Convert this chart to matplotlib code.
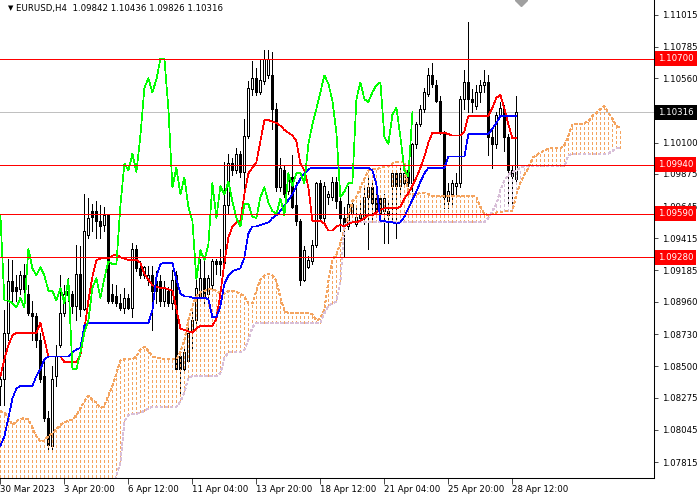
import numpy as np
import matplotlib.pyplot as plt

plt.rcParams['font.family'] = ['DejaVu Sans']

# EURUSD H4 bars, oldest -> newest (last bar = 28 Apr 16:00)
opens = [1.0836, 1.0841, 1.0874, 1.0911, 1.0907, 1.0905, 1.0915, 1.0902, 1.0888, 1.0886,
         1.0869, 1.0843, 1.0813, 1.0793, 1.0843, 1.0865, 1.0888, 1.0901, 1.0902, 1.0893,
         1.0916, 1.0891, 1.0944, 1.0961, 1.0961, 1.0954, 1.0951, 1.0958, 1.0902, 1.0900,
         1.0895, 1.0892, 1.0899, 1.0892, 1.0934, 1.0920, 1.0915, 1.0912, 1.0915, 1.0911,
         1.0911, 1.0897, 1.0904, 1.0895, 1.0915, 1.0857, 1.0848, 1.0854, 1.0876, 1.0883,
         1.0899, 1.0913, 1.0902, 1.0908, 1.0925, 1.0925, 1.0924, 1.0965, 1.0995, 1.0990,
         1.1002, 1.0989, 1.1015, 1.1048, 1.1056, 1.1046, 1.1054, 1.1058, 1.1058, 1.1034,
         1.0978, 1.0990, 1.0975, 1.0985, 1.0965, 1.0954, 1.0912, 1.0921, 1.0925, 1.0937,
         1.0981, 1.0956, 1.0971, 1.0971, 1.0982, 1.0968, 1.0956, 1.0950, 1.0959, 1.0952,
         1.0958, 1.0956, 1.0971, 1.0978, 1.0970, 1.0970, 1.0961, 1.0961, 1.0979, 1.0988,
         1.0979, 1.0981, 1.0990, 1.0981, 1.1009, 1.1023, 1.1034, 1.1045, 1.1058, 1.1051,
         1.1040, 1.1017, 1.0968, 1.0973, 1.0979, 1.0981, 1.1041, 1.1053, 1.1041, 1.1036,
         1.1046, 1.1051, 1.1053, 1.1014, 1.1009, 1.1030, 1.1034, 1.1014, 1.0990, 1.09842]
highs = [1.0845, 1.0890, 1.0927, 1.0926, 1.0915, 1.0918, 1.0923, 1.0908, 1.0897, 1.0888,
         1.0874, 1.0855, 1.0818, 1.0850, 1.0865, 1.0915, 1.0908, 1.0913, 1.0904, 1.0937,
         1.0936, 1.0973, 1.0970, 1.0966, 1.0968, 1.0965, 1.0964, 1.0959, 1.0909, 1.0908,
         1.0902, 1.0906, 1.0902, 1.0938, 1.0937, 1.0925, 1.0922, 1.0922, 1.0922, 1.0918,
         1.0915, 1.0911, 1.0907, 1.0919, 1.0918, 1.0861, 1.0863, 1.0878, 1.0890, 1.0913,
         1.0927, 1.0925, 1.0915, 1.0927, 1.0927, 1.0934, 1.0996, 1.1002, 1.0999, 1.1006,
         1.1004, 1.1027, 1.1054, 1.1068, 1.1063, 1.1069, 1.1076, 1.1076, 1.1075, 1.1038,
         1.0999, 1.0994, 1.0989, 1.1001, 1.0982, 1.0955, 1.0936, 1.0929, 1.0940, 1.0982,
         1.0983, 1.0982, 1.0975, 1.0985, 1.0985, 1.0973, 1.0964, 1.0979, 1.0968, 1.0964,
         1.0968, 1.0978, 1.0985, 1.0982, 1.0973, 1.0972, 1.0973, 1.0968, 1.0990, 1.0990,
         1.0992, 1.0990, 1.0995, 1.1010, 1.1025, 1.1037, 1.1049, 1.1063, 1.1067, 1.1055,
         1.1043, 1.1018, 1.0981, 1.0983, 1.0988, 1.1043, 1.1062, 1.1096, 1.1048, 1.1051,
         1.1055, 1.1062, 1.1058, 1.1020, 1.1032, 1.1039, 1.1037, 1.1016, 1.0993, 1.10436]
lows = [1.0822, 1.0822, 1.0869, 1.0897, 1.0897, 1.0902, 1.0893, 1.0887, 1.0869, 1.0864,
        1.0839, 1.0811, 1.0791, 1.0791, 1.0836, 1.0864, 1.0886, 1.0897, 1.0888, 1.0883,
        1.0886, 1.0890, 1.0942, 1.0947, 1.0942, 1.0942, 1.0947, 1.0895, 1.0895, 1.0893,
        1.0890, 1.0888, 1.0891, 1.0885, 1.0918, 1.0913, 1.0913, 1.0908, 1.0876, 1.0895,
        1.0893, 1.0893, 1.0893, 1.0891, 1.0846, 1.0831, 1.0845, 1.0853, 1.0862, 1.0881,
        1.0897, 1.0895, 1.0899, 1.0906, 1.0916, 1.0915, 1.0922, 1.0959, 1.0987, 1.0988,
        1.0985, 1.0976, 1.1013, 1.1044, 1.1044, 1.1045, 1.1052, 1.1056, 1.1020, 1.0975,
        1.0975, 1.0971, 1.0973, 1.0963, 1.0951, 1.0908, 1.0911, 1.0920, 1.0923, 1.0935,
        1.0954, 1.0951, 1.0966, 1.0969, 1.0963, 1.0947, 1.0928, 1.0948, 1.0957, 1.0950,
        1.0954, 1.0952, 1.0934, 1.0955, 1.0957, 1.0956, 1.0938, 1.0938, 1.0954, 1.0942,
        1.0972, 1.0980, 1.0979, 1.0975, 1.1006, 1.1022, 1.1032, 1.1043, 1.1050, 1.1039,
        1.1016, 1.0963, 1.0963, 1.0965, 1.0972, 1.0978, 1.1034, 1.1032, 1.1032, 1.1034,
        1.1039, 1.1046, 1.1001, 1.0992, 1.1006, 1.1029, 1.1004, 1.0965, 1.0965, 1.09826]
closes = [1.0841, 1.0874, 1.0911, 1.0904, 1.0904, 1.0915, 1.0905, 1.0888, 1.0886, 1.0869,
          1.0841, 1.0813, 1.0794, 1.0841, 1.0857, 1.0888, 1.0902, 1.0904, 1.0893, 1.0916,
          1.0891, 1.0947, 1.0956, 1.0957, 1.0954, 1.0950, 1.0958, 1.0897, 1.0897, 1.0895,
          1.0892, 1.0899, 1.0892, 1.0934, 1.0920, 1.0915, 1.0921, 1.0915, 1.0904, 1.0904,
          1.0897, 1.0906, 1.0895, 1.0912, 1.0848, 1.0848, 1.0860, 1.0874, 1.0883, 1.0906,
          1.0913, 1.0899, 1.0913, 1.0925, 1.0923, 1.0923, 1.0965, 1.0995, 1.0990, 1.1002,
          1.0989, 1.1015, 1.1049, 1.1056, 1.1046, 1.1055, 1.1070, 1.1070, 1.1034, 1.0978,
          1.0992, 1.0973, 1.0985, 1.0964, 1.0954, 1.0912, 1.0933, 1.0926, 1.0937, 1.0981,
          1.0956, 1.0979, 1.0973, 1.0982, 1.0968, 1.0956, 1.0950, 1.0966, 1.0966, 1.0957,
          1.0956, 1.0971, 1.0978, 1.0967, 1.0961, 1.0959, 1.0970, 1.0958, 1.0988, 1.0979,
          1.0988, 1.0988, 1.0981, 1.1009, 1.1023, 1.1034, 1.1046, 1.1058, 1.1052, 1.1040,
          1.1017, 1.0971, 1.0975, 1.0981, 1.0981, 1.1041, 1.1053, 1.1041, 1.1039, 1.1046,
          1.1051, 1.1053, 1.1014, 1.1009, 1.1030, 1.1035, 1.1014, 1.0990, 1.0986, 1.10316]

# Ichimoku lines
tenkan = [1.0843, 1.0855, 1.0865, 1.0872, 1.0874, 1.0874, 1.0874, 1.0874, 1.0874, 1.0874,
          1.0881, 1.0869, 1.0857, 1.0857, 1.0857, 1.0857, 1.0853, 1.0853, 1.0853, 1.0853,
          1.0858, 1.0876, 1.0897, 1.0914, 1.0926, 1.0927, 1.0927, 1.0927, 1.0929, 1.0930,
          1.0928, 1.0927, 1.0926, 1.0926, 1.0926, 1.0924, 1.0916, 1.0912, 1.0908, 1.0907,
          1.0906, 1.0906, 1.0905, 1.0904, 1.0891, 1.0877, 1.0876, 1.0875, 1.0874, 1.0877,
          1.0879, 1.0879, 1.0879, 1.0879, 1.0884, 1.0902, 1.0924, 1.0942, 1.0950, 1.0953,
          1.0954, 1.0973, 1.0988, 1.0992, 1.0996, 1.1011, 1.1026, 1.1026, 1.1025, 1.1024,
          1.1022, 1.1019, 1.1017, 1.1015, 1.1011, 1.0995, 1.0990, 1.0978, 1.0954, 1.0954,
          1.0954, 1.0952, 1.0947, 1.0947, 1.0950, 1.0951, 1.0950, 1.0952, 1.0953, 1.0953,
          1.0954, 1.0956, 1.0958, 1.0958, 1.0960, 1.0962, 1.0963, 1.0963, 1.0963, 1.0963,
          1.0964, 1.0970, 1.0974, 1.0979, 1.0985, 1.0992, 1.1000, 1.1010, 1.1017, 1.1017,
          1.1017, 1.1017, 1.1016, 1.1015, 1.1015, 1.1015, 1.1018, 1.1029, 1.1029, 1.1029,
          1.1029, 1.1029, 1.1029, 1.1035, 1.1042, 1.1044, 1.1034, 1.1023, 1.1013, 1.1013]
kijun = [1.0793, 1.0800, 1.0813, 1.0827, 1.0834, 1.0836, 1.0836, 1.0836, 1.0836, 1.0843,
         1.0848, 1.0855, 1.0857, 1.0857, 1.0857, 1.0857, 1.0857, 1.0857, 1.0860, 1.0862,
         1.0863, 1.0879, 1.0881, 1.0881, 1.0881, 1.0881, 1.0881, 1.0881, 1.0881, 1.0881,
         1.0881, 1.0881, 1.0881, 1.0881, 1.0881, 1.0881, 1.0881, 1.0881, 1.0890, 1.0914,
         1.0923, 1.0924, 1.0924, 1.0924, 1.0912, 1.0902, 1.0900, 1.0900, 1.0899, 1.0899,
         1.0899, 1.0899, 1.0898, 1.0885, 1.0885, 1.0893, 1.0909, 1.0915, 1.0918, 1.0919,
         1.0920, 1.0928, 1.0945, 1.0950, 1.0950, 1.0951, 1.0952, 1.0953, 1.0956, 1.0958,
         1.0961, 1.0965, 1.0969, 1.0973, 1.0979, 1.0984, 1.0988, 1.0991, 1.0992, 1.0992,
         1.0992, 1.0992, 1.0992, 1.0992, 1.0992, 1.0992, 1.0992, 1.0992, 1.0992, 1.0992,
         1.0992, 1.0992, 1.0992, 1.0990, 1.0980, 1.0954, 1.0954, 1.0953, 1.0953, 1.0952,
         1.0953, 1.0957, 1.0963, 1.0969, 1.0975, 1.0982, 1.0988, 1.0992, 1.0992, 1.0992,
         1.0992, 1.0992, 1.1000, 1.1000, 1.1000, 1.1000, 1.1000, 1.1016, 1.1016, 1.1016,
         1.1016, 1.1016, 1.1016, 1.1020, 1.1024, 1.1029, 1.1029, 1.1029, 1.1029, 1.1029]
# Senkou spans, already shifted 26 bars ahead (156 points)
span_a = [1.0818, 1.0817, 1.0813, 1.0808, 1.0811, 1.0812, 1.0813, 1.0812, 1.0806, 1.0800,
          1.0796, 1.0797, 1.0800, 1.0802, 1.0805, 1.0808, 1.0810, 1.0811, 1.0812, 1.0815,
          1.0820, 1.0825, 1.0829, 1.0826, 1.0824, 1.0820, 1.0822, 1.0829, 1.0836, 1.0845,
          1.0854, 1.0855, 1.0855, 1.0855, 1.0857, 1.0862, 1.0864, 1.0861, 1.0857, 1.0856,
          1.0856, 1.0855, 1.0855, 1.0855, 1.0855, 1.0860, 1.0869, 1.0883, 1.0893, 1.0900,
          1.0903, 1.0904, 1.0905, 1.0905, 1.0904, 1.0902, 1.0902, 1.0904, 1.0904, 1.0903,
          1.0902, 1.0900, 1.0895, 1.0895, 1.0904, 1.0912, 1.0915, 1.0916, 1.0915, 1.0911,
          1.0899, 1.0890, 1.0888, 1.0888, 1.0888, 1.0888, 1.0888, 1.0888, 1.0887, 1.0883,
          1.0884, 1.0891, 1.0911, 1.0926, 1.0930, 1.0938, 1.0948, 1.0958, 1.0968, 1.0971,
          1.0978, 1.0984, 1.0990, 1.0991, 1.0991, 1.0992, 1.0993, 1.0993, 1.0995, 1.0996,
          1.0996, 1.0996, 1.0973, 1.0973, 1.0973, 1.0974, 1.0974, 1.0973, 1.0972, 1.0972,
          1.0972, 1.0972, 1.0972, 1.0972, 1.0972, 1.0972, 1.0972, 1.0972, 1.0972, 1.0971,
          1.0964, 1.0959, 1.0958, 1.0959, 1.0960, 1.0960, 1.0961, 1.0961, 1.0961, 1.0973,
          1.0981, 1.0987, 1.0992, 1.0999, 1.1001, 1.1003, 1.1004, 1.1006, 1.1006, 1.1006,
          1.1006, 1.1008, 1.1015, 1.1023, 1.1023, 1.1023, 1.1024, 1.1025, 1.1029, 1.1031,
          1.1034, 1.1036, 1.1031, 1.1027, 1.1022, 1.1020]
span_b = [1.0760, 1.0760, 1.0760, 1.0760, 1.0760, 1.0760, 1.0760, 1.0760, 1.0760, 1.0760,
          1.0760, 1.0760, 1.0760, 1.0760, 1.0760, 1.0760, 1.0760, 1.0760, 1.0760, 1.0760,
          1.0760, 1.0760, 1.0760, 1.0760, 1.0760, 1.0760, 1.0760, 1.0760, 1.0760, 1.0772,
          1.0781, 1.0811, 1.0815, 1.0816, 1.0816, 1.0817, 1.0818, 1.0820, 1.0821, 1.0821,
          1.0821, 1.0821, 1.0821, 1.0821, 1.0821, 1.0825, 1.0831, 1.0842, 1.0843, 1.0843,
          1.0843, 1.0843, 1.0843, 1.0843, 1.0843, 1.0845, 1.0856, 1.0860, 1.0860, 1.0860,
          1.0860, 1.0862, 1.0869, 1.0878, 1.0881, 1.0881, 1.0881, 1.0881, 1.0881, 1.0881,
          1.0881, 1.0881, 1.0881, 1.0881, 1.0881, 1.0881, 1.0881, 1.0881, 1.0881, 1.0881,
          1.0881, 1.0888, 1.0893, 1.0895, 1.0896, 1.0911, 1.0951, 1.0953, 1.0953, 1.0953,
          1.0953, 1.0953, 1.0953, 1.0953, 1.0953, 1.0953, 1.0953, 1.0953, 1.0953, 1.0953,
          1.0953, 1.0953, 1.0953, 1.0953, 1.0953, 1.0953, 1.0953, 1.0953, 1.0953, 1.0953,
          1.0953, 1.0953, 1.0953, 1.0953, 1.0953, 1.0953, 1.0953, 1.0953, 1.0953, 1.0953,
          1.0953, 1.0953, 1.0956, 1.0961, 1.0966, 1.0976, 1.0983, 1.0987, 1.0989, 1.0990,
          1.0992, 1.0993, 1.0993, 1.0993, 1.0993, 1.0993, 1.0993, 1.0993, 1.0993, 1.0993,
          1.0993, 1.0993, 1.1001, 1.1002, 1.1002, 1.1002, 1.1002, 1.1002, 1.1002, 1.1002,
          1.1002, 1.1002, 1.1002, 1.1004, 1.1006, 1.1006]

red_levels = [1.10700, 1.09940, 1.09590, 1.09280]
bid = 1.10316
price_ticks = [1.11015, 1.10785, 1.10560, 1.10100, 1.09875, 1.09645, 1.09415,
               1.09185, 1.08960, 1.08730, 1.08500, 1.08275, 1.08045, 1.07815]
time_ticks = [0, 16, 32, 48, 64, 80, 96, 112, 128]
time_labels = ['30 Mar 2023', '3 Apr 20:00', '6 Apr 12:00', '11 Apr 04:00', '13 Apr 20:00',
               '18 Apr 12:00', '21 Apr 04:00', '25 Apr 20:00', '28 Apr 12:00']
header = 'EURUSD,H4  1.09842 1.10436 1.09826 1.10316'

o = np.array(opens); h = np.array(highs); l = np.array(lows); c = np.array(closes)
x = np.arange(len(c))
sa = np.array(span_a); sb = np.array(span_b)
xs = np.arange(len(sa))

fs = 6.2
lw = 0.5   # ~1 device pixel with antialiasing off

fig = plt.figure(figsize=(7, 5), dpi=100)
ax = fig.add_axes([0, 22 / 500, 654 / 700, 478 / 500])

ax.axhline(bid, color='#C0C0C0', lw=lw, zorder=1, antialiased=False)

# candles
ax.vlines(x, l, h, color='black', lw=lw, zorder=2, antialiased=False)
up = c >= o
lo = np.minimum(o, c)
hgt = np.abs(c - o)
ax.bar(x[up], hgt[up], bottom=lo[up], width=0.5, color='white', edgecolor='black',
       lw=lw, zorder=2.5, antialiased=False)
ax.bar(x[~up], hgt[~up], bottom=lo[~up], width=0.5, color='black', edgecolor='black',
       lw=lw, zorder=2.5, antialiased=False)

# kumo
bull = sa >= sb
dash = (0, (4, 3))
ax.vlines(xs[bull], sb[bull], sa[bull], colors='#F4A460', linestyles=dash, lw=lw,
          zorder=3, antialiased=False)
ax.vlines(xs[~bull], sa[~bull], sb[~bull], colors='#D8BFD8', linestyles=dash, lw=lw,
          zorder=3, antialiased=False)
ax.plot(xs, sa, color='#F4A460', ls=dash, lw=lw, zorder=3, antialiased=False)
ax.plot(xs, sb, color='#D8BFD8', ls=dash, lw=lw, zorder=3, antialiased=False)

ax.plot(x, tenkan, color='#FF0000', lw=lw, zorder=4, antialiased=False)
ax.plot(x, kijun, color='#0000FF', lw=lw, zorder=4, antialiased=False)
ax.plot(x[26:] - 26, c[26:], color='#00FF00', lw=lw, zorder=4, antialiased=False)

for lvl in red_levels:
    ax.axhline(lvl, color='#FF0000', lw=lw, zorder=5, antialiased=False)

ax.set_xlim(-0.1, 163.4)
ax.set_ylim(1.077011, 1.111191)

# chart shift marker
ax.plot([130.2], [1.111191], marker='D', color='#A0A0A0', ms=6, zorder=6)

ax.yaxis.tick_right()
ax.set_yticks(price_ticks)
ax.set_yticklabels([f'{p:.5f}' for p in price_ticks])
ax.tick_params(axis='y', direction='out', length=3, width=lw, pad=3, labelsize=fs)
ax.set_xticks(time_ticks)
ax.set_xticklabels(time_labels)
ax.tick_params(axis='x', direction='out', length=4, width=lw, pad=1, labelsize=fs)
for lab in ax.get_xticklabels():
    lab.set_horizontalalignment('left')

for side in ['left', 'top']:
    ax.spines[side].set_visible(False)
for side in ['right', 'bottom']:
    ax.spines[side].set_linewidth(0.75)

ytr = ax.get_yaxis_transform()
for lvl in red_levels:
    ax.text(1.006, lvl, f'{lvl:.5f}', transform=ytr, color='white', fontsize=fs,
            va='center', ha='left', clip_on=False, zorder=10,
            bbox=dict(boxstyle='square,pad=0.35', fc='#FF0000', ec='none'))
ax.text(1.006, bid, f'{bid:.5f}', transform=ytr, color='white', fontsize=fs,
        va='center', ha='left', clip_on=False, zorder=10,
        bbox=dict(boxstyle='square,pad=0.35', fc='black', ec='none'))

fig.text(8 / 700, 1 - 8 / 500, '\u25bc', fontsize=5, va='center', ha='left')
fig.text(16 / 700, 1 - 8 / 500, header, fontsize=fs, va='center', ha='left')

fig.savefig('out.png', dpi=100, facecolor='white')
